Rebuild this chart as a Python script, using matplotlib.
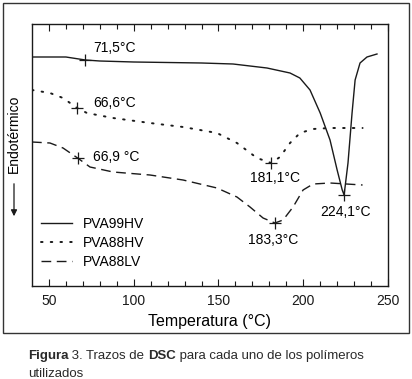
import numpy as np
import matplotlib
matplotlib.use("Agg")
import matplotlib.pyplot as plt
import matplotlib.patches as patches

plt.rcParams['font.family'] = ['Liberation Sans', 'DejaVu Sans']

# DSC traces (temperature in °C, heat flow in arbitrary units, endotherm down)
t_99hv = [40, 60, 71.5, 80, 100, 140, 158.6, 178.6, 192.2, 198, 204, 210, 215.8, 220, 223,
          224.1, 226.4, 228.8, 230.6, 233.5, 237.6, 243.5]
h_99hv = [22.9, 22.9, 22.6, 22.5, 22.4, 22.3, 22.2, 21.8, 21.3, 20.8, 19.6, 17.3, 14.6, 11.6,
          9.6, 9.1, 12.3, 17.3, 20.6, 22.3, 22.9, 23.2]

t_88hv = [40, 50.6, 58.3, 66.6, 72.4, 87.8, 109.6, 129.1, 149.1, 160.9, 172.7, 181.1, 186.3,
          192.2, 198.1, 205.8, 215.8, 235]
h_88hv = [19.6, 19.3, 18.8, 17.8, 17.3, 16.8, 16.3, 15.9, 15.3, 14.3, 12.8, 12.3, 12.9, 14.3,
          15.3, 15.7, 15.8, 15.8]

t_88lv = [40, 50.6, 58.3, 66.9, 74.2, 87.8, 109.6, 129.1, 149.1, 160.9, 168.6, 176.3, 183.3,
          188.1, 194, 199.9, 205.8, 215.8, 235]
h_88lv = [14.4, 14.3, 13.8, 12.8, 11.9, 11.4, 11.1, 10.6, 9.8, 8.9, 7.9, 6.8, 6.3, 6.6, 7.9,
          9.6, 10.2, 10.3, 10.1]

# marked transitions (Tg and melting peak) per polymer
tg_99hv, tm_99hv = 71.5, 224.1
tg_88hv, tm_88hv = 66.6, 181.1
tg_88lv, tm_88lv = 66.9, 183.3

ink = '#1a1a1a'
fig = plt.figure(figsize=(4.12, 3.79), dpi=100)
ax = fig.add_axes([32 / 412, 1 - 286 / 379, 356 / 412, 262 / 379])

ax.plot(t_99hv, h_99hv, color=ink, lw=1.0, label='PVA99HV')
ax.plot(t_88hv, h_88hv, color=ink, lw=1.4, ls=(0, (0.8, 4.2)), dash_capstyle='round',
        label='PVA88HV')
ax.plot(t_88lv, h_88lv, color=ink, lw=1.0, ls=(0, (7, 4)), label='PVA88LV')

marks = [(t_99hv, h_99hv, tg_99hv), (t_99hv, h_99hv, tm_99hv),
         (t_88hv, h_88hv, tg_88hv), (t_88hv, h_88hv, tm_88hv),
         (t_88lv, h_88lv, tg_88lv), (t_88lv, h_88lv, tm_88lv)]
for t, h, tx in marks:
    ax.plot(tx, np.interp(tx, t, h), marker='+', ms=9, mew=0.9, color=ink)

fs = 10
ax.text(76, 23.8, '71,5°C', fontsize=fs, va='center')
ax.text(76, 18.3, '66,6°C', fontsize=fs, va='center')
ax.text(76, 12.9, '66,9 °C', fontsize=fs, va='center')
ax.text(183.4, 10.8, '181,1°C', fontsize=fs, ha='center', va='center')
ax.text(224.7, 7.4, '224,1°C', fontsize=fs, ha='center', va='center')
ax.text(182.2, 4.6, '183,3°C', fontsize=fs, ha='center', va='center')

ax.set_xlim(40, 250)
ax.set_ylim(0, 26.2)
ax.set_xticks([50, 100, 150, 200, 250])
ax.set_xticks(np.arange(50, 250, 10), minor=True)
ax.set_yticks([])
ax.tick_params(axis='x', which='both', direction='in', top=True, labelsize=fs, pad=6,
               colors=ink)
ax.tick_params(axis='x', which='major', length=5, width=0.8)
ax.tick_params(axis='x', which='minor', length=3.5, width=0.8)
for s in ax.spines.values():
    s.set_linewidth(1.0)
    s.set_color(ink)
ax.set_xlabel('Temperatura (°C)', fontsize=11.5, labelpad=4)

ax.legend(loc='upper left', bbox_to_anchor=(-0.005, 0.305), frameon=False, fontsize=fs,
          handlelength=2.2, handletextpad=0.8, labelspacing=0.35, borderpad=0.3)

fig.text(14 / 412, 1 - 134 / 379, 'Endotérmico', rotation=90, fontsize=fs,
         ha='center', va='center')
fig.add_artist(patches.FancyArrowPatch((14 / 412, 1 - 181 / 379), (14 / 412, 1 - 219 / 379),
                                       transform=fig.transFigure, arrowstyle='-|>',
                                       mutation_scale=9, lw=0.9, color=ink))

fig.add_artist(patches.Rectangle((3 / 412, 1 - 333 / 379), 406 / 412, 330 / 379,
                                 transform=fig.transFigure, fill=False, lw=1.0,
                                 edgecolor='#333333'))

# caption, with the bold words drawn as separate pieces
cap_color = '#2a2a2a'
pieces = [(' 3. Trazos de ', 'normal'), ('DSC', 'bold'),
          (' para cada uno de los polímeros', 'normal')]
cur = fig.text(28 / 412, 1 - 362 / 379, 'Figura', fontsize=9.5, fontweight='bold',
               color=cap_color, va='bottom')
for txt, w in pieces:
    cur = ax.annotate(txt, xy=(1, 0), xycoords=cur, fontsize=9.5, fontweight=w,
                      color=cap_color, va='bottom', ha='left', annotation_clip=False)
fig.text(28 / 412, 1 - 380 / 379, 'utilizados', fontsize=9.5, color=cap_color, va='bottom')

fig.savefig('out.png', dpi=100)
